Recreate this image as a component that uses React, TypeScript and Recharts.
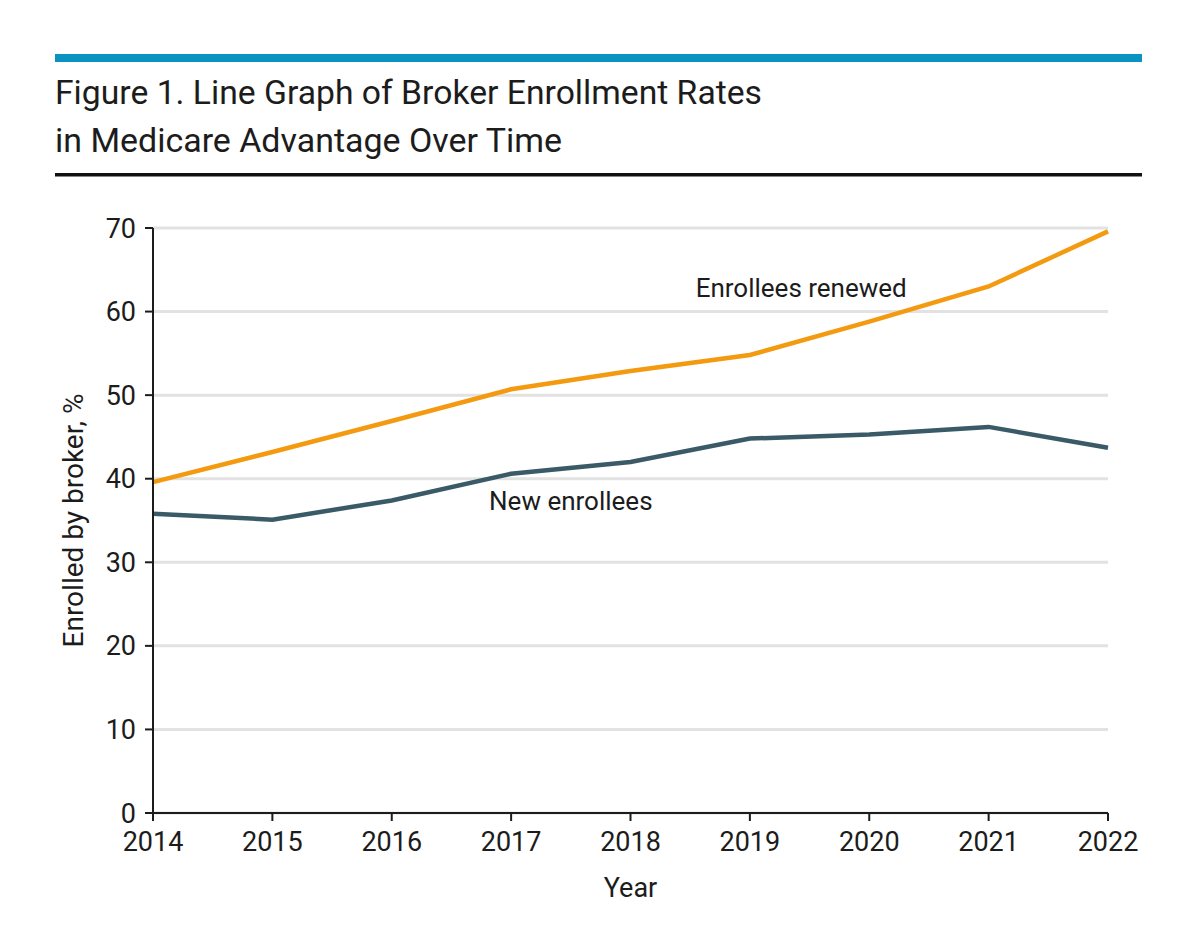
import { LineChart, Line, XAxis, YAxis, CartesianGrid, ReferenceDot } from "recharts";

const years = [2014, 2015, 2016, 2017, 2018, 2019, 2020, 2021, 2022];
const enrolleesRenewed = [39.6, 43.2, 46.9, 50.7, 52.9, 54.8, 58.8, 63.0, 69.6];
const newEnrollees = [35.8, 35.1, 37.4, 40.6, 42.0, 44.8, 45.3, 46.2, 43.7];
const yTicks = [0, 10, 20, 30, 40, 50, 60, 70];

const titleLines = [
  "Figure 1. Line Graph of Broker Enrollment Rates",
  "in Medicare Advantage Over Time",
];

const data = years.map((year, i) => ({
  year,
  renewed: enrolleesRenewed[i],
  newer: newEnrollees[i],
}));

const FONT = "Roboto, 'Noto Sans', sans-serif";
const INK = "#1c1c1c";
const ORANGE = "#f39a10";
const SLATE = "#3a5a67";

const tickStyle = { fill: INK, fontSize: 27, fontFamily: FONT };

export default function App() {
  return (
    <div style={{ position: "absolute", left: 0, top: 0, width: 1200, height: 927, background: "#fff" }}>
      <svg width={1200} height={200} style={{ position: "absolute", left: 0, top: 0 }}>
        <rect x={55} y={54} width={1087} height={8} fill="#0a93c0" />
        <text x={55} y={104} fontFamily={FONT} fontSize={33} fontWeight={400} fill={INK}
          textLength={707} lengthAdjust="spacingAndGlyphs">
          {titleLines[0]}
        </text>
        <text x={55} y={152} fontFamily={FONT} fontSize={33} fontWeight={400} fill={INK}
          textLength={507} lengthAdjust="spacingAndGlyphs">
          {titleLines[1]}
        </text>
        <rect x={55} y={173} width={1087} height={3.5} fill="#111" />
      </svg>
      <div style={{ position: "absolute", left: 0, top: 0 }}>
        <LineChart
          width={1200}
          height={927}
          data={data}
          margin={{ top: 228, right: 92, left: 73, bottom: 54 }}
        >
          <CartesianGrid horizontal vertical={false} stroke="#e2e2e2" strokeWidth={3} />
          <XAxis
            dataKey="year"
            type="number"
            domain={[2014, 2022]}
            ticks={years}
            height={60}
            tick={tickStyle}
            tickSize={8}
            tickMargin={11}
            axisLine={{ stroke: INK, strokeWidth: 2 }}
            tickLine={{ stroke: INK, strokeWidth: 2 }}
            label={{ value: "Year", position: "bottom", offset: 5, fill: INK, fontSize: 27, fontFamily: FONT }}
          />
          <YAxis
            type="number"
            domain={[0, 70]}
            ticks={yTicks}
            width={80}
            tick={tickStyle}
            tickSize={8}
            tickMargin={9}
            axisLine={{ stroke: INK, strokeWidth: 2 }}
            tickLine={{ stroke: INK, strokeWidth: 2 }}
            label={{
              value: "Enrolled by broker, %",
              angle: -90,
              position: "insideLeft",
              offset: 0,
              fill: INK,
              fontSize: 28,
              fontFamily: FONT,
              style: { textAnchor: "middle" },
            }}
          />
          <Line
            type="linear"
            dataKey="renewed"
            stroke={ORANGE}
            strokeWidth={4.5}
            dot={false}
            activeDot={false}
            isAnimationActive={false}
          />
          <Line
            type="linear"
            dataKey="newer"
            stroke={SLATE}
            strokeWidth={4.5}
            dot={false}
            activeDot={false}
            isAnimationActive={false}
          />
          <ReferenceDot
            x={2019.43}
            y={62.9}
            r={0}
            fill="none"
            stroke="none"
            label={{ value: "Enrollees renewed", position: "center", fill: INK, fontSize: 26, fontFamily: FONT }}
          />
          <ReferenceDot
            x={2017.5}
            y={37.4}
            r={0}
            fill="none"
            stroke="none"
            label={{ value: "New enrollees", position: "center", fill: INK, fontSize: 26, fontFamily: FONT }}
          />
        </LineChart>
      </div>
    </div>
  );
}
